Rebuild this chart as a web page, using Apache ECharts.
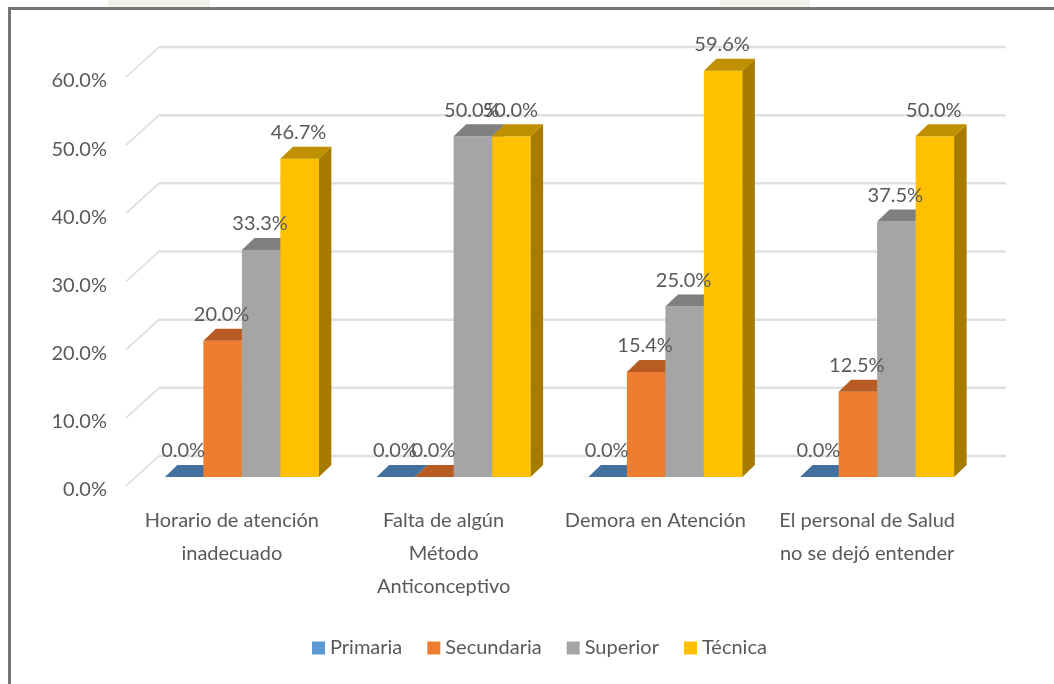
<!DOCTYPE html>
<html><head><meta charset="utf-8">
<style>html,body{margin:0;padding:0;background:#fff}#c{width:1054px;height:684px}</style>
<script src="https://cdn.jsdelivr.net/npm/echarts@6/dist/echarts.min.js"></script>
</head><body><div id="c"></div>
<script>
const categories = ['Horario de atención\ninadecuado','Falta de algún\nMétodo\nAnticonceptivo','Demora en Atención','El personal de Salud\nno se dejó entender'];
const primaria = [0, 0, 0, 0];
const secundaria = [20.0, 0, 15.4, 12.5];
const superior = [33.3, 50.0, 25.0, 37.5];
const tecnica = [46.7, 50.0, 59.6, 50.0];
const yTicks = [0, 10, 20, 30, 40, 50, 60];
const seriesNames = ['Primaria','Secundaria','Superior','Técnica'];
const seriesData = [primaria, secundaria, superior, tecnica];
const fronts = ['#5b9bd5','#ed7d31','#a5a5a5','#ffc000'];
const tops = ['#41719c','#b85c23','#7f7f7f','#bf9000'];
const sides = ['#35607f','#9c4f1d','#7c7c7c','#a67c00'];
const FONT = 'Lato,"Liberation Sans",sans-serif';
const FS = 20;
const TXT = '#595959';
const WALL = [33, -30];   // floor depth in px
const BAR0 = [10, -9];    // bar front offset from front plane
const BARD = [12.5, -12]; // bar depth
const BARW = 38.5;

const chart = echarts.init(document.getElementById('c'), null, {renderer:'canvas'});

function barX(api, idx, s){
  const cx = api.coord([idx, 0])[0] + BAR0[0];
  return cx + (s - 2) * BARW;
}
const barSeries = seriesNames.map((name, s) => ({
  name, type:'custom', coordinateSystem:'cartesian2d', z:5+s,
  itemStyle:{color:fronts[s]},
  data: categories.map((c,i)=>[i, seriesData[s][i]]),
  encode:{x:0,y:1},
  renderItem(params, api){
    const i = api.value(0), v = api.value(1);
    const x = barX(api, i, s);
    const base = api.coord([i,0])[1] + BAR0[1];
    const y = api.coord([i,v])[1] + BAR0[1];
    const dx = BARD[0], dy = BARD[1];
    const kids = [];
    if (base - y > 0.01) {
      kids.push({type:'rect', shape:{x, y, width:BARW, height:base-y}, style:{fill:fronts[s]}});
    }
    kids.push({type:'polygon', shape:{points:[[x+BARW,y],[x+BARW+dx,y+dy],[x+BARW+dx,base+dy],[x+BARW,base]]}, style:{fill:sides[s]}});
    kids.push({type:'polygon', shape:{points:[[x,y],[x+dx,y+dy],[x+BARW+dx,y+dy],[x+BARW,y]]}, style:{fill:tops[s]}});
    return {type:'group', children:kids};
  }
}));
const labelSeries = seriesNames.map((name, s) => ({
  type:'custom', coordinateSystem:'cartesian2d', z:20, silent:true,
  data: categories.map((c,i)=>[i, seriesData[s][i]]),
  encode:{x:0,y:1},
  renderItem(params, api){
    const i = api.value(0), v = api.value(1);
    const x = barX(api, i, s) + BARW/2 - 1;
    const y = api.coord([i,v])[1] + BAR0[1] + BARD[1] - 14;
    return {type:'text', style:{x, y, text:v.toFixed(1)+'%', fill:TXT, font:FS+'px '+FONT, align:'center', verticalAlign:'middle'}};
  }
}));
const wallSeries = {
  type:'custom', coordinateSystem:'cartesian2d', z:1, silent:true,
  data: yTicks.map(t=>[0,t]),
  encode:{y:1},
  renderItem(params, api){
    const t = api.value(1);
    const a = api.coord([0,t]);
    const size = api.size([1,0]);
    const left = a[0] - size[0]/2;
    const right = left + size[0]*categories.length;
    const y = a[1];
    return {type:'group', children:[
      {type:'line', shape:{x1:left,y1:y,x2:left+WALL[0],y2:y+WALL[1]}, style:{stroke:'#dcdcdc',lineWidth:1.5}},
      {type:'line', shape:{x1:left+WALL[0],y1:y+WALL[1],x2:right+WALL[0],y2:y+WALL[1]}, style:{stroke:'#e0e0e0',lineWidth:2.5}}
    ]};
  }
};

chart.setOption({
  animation:false,
  backgroundColor:'#fff',
  textStyle:{fontFamily:FONT},
  legend:{
    data:seriesNames.map(n=>({name:n, icon:'rect'})),
    left:307, top:633, itemWidth:13, itemHeight:13, itemGap:25,
    textStyle:{color:TXT, fontSize:FS, fontFamily:FONT}, 
  },
  grid:{left:126, width:847, top:77, height:409},
  xAxis:{type:'category', data:categories,
    axisLine:{show:false}, axisTick:{show:false},
    axisLabel:{color:TXT, fontSize:FS, fontFamily:FONT, margin:18, lineHeight:33, interval:0}},
  yAxis:{type:'value', min:0, max:60, interval:10,
    axisLine:{show:false}, axisTick:{show:false}, splitLine:{show:false},
    axisLabel:{color:TXT, fontSize:FS, fontFamily:FONT, margin:19,
      formatter:v=>'{a|'+v.toFixed(1)+'%}',
      rich:{a:{color:TXT, fontSize:FS, fontFamily:FONT, padding:[8,0,0,0]}}}},
  series:[wallSeries, ...barSeries, ...labelSeries],
  graphic:[
    {type:'rect', z:40, shape:{x:108,y:0,width:102,height:7}, style:{fill:'#f1f0eb'}},
    {type:'rect', z:40, shape:{x:720,y:0,width:90,height:7}, style:{fill:'#f1f0eb'}},
    {type:'line', z:50, shape:{x1:8,y1:8.5,x2:1054,y2:8.5}, style:{stroke:'#757575',lineWidth:3}},
    {type:'line', z:50, shape:{x1:9.5,y1:8,x2:9.5,y2:684}, style:{stroke:'#757575',lineWidth:3}}
  ]
});
</script></body></html>
